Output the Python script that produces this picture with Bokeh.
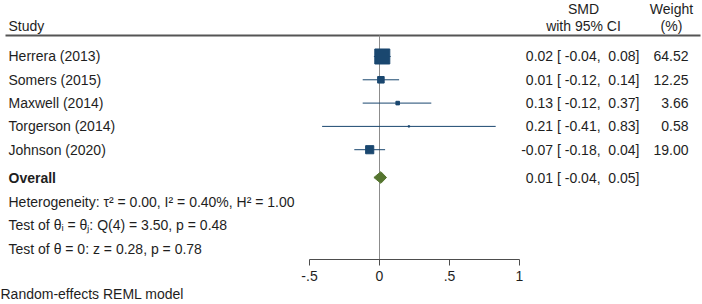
from bokeh.plotting import figure
from bokeh.models import Range1d, FixedTicker, Title, ColumnDataSource
from bokeh.core.properties import value
from bokeh.embed import file_html
from bokeh.resources import INLINE
import math

# ---------------- data ----------------
studies = ["Herrera (2013)", "Somers (2015)", "Maxwell (2014)", "Torgerson (2014)", "Johnson (2020)"]
smd = [0.02, 0.01, 0.13, 0.21, -0.07]
ci_low = [-0.04, -0.12, -0.12, -0.41, -0.18]
ci_high = [0.08, 0.14, 0.37, 0.83, 0.04]
weights = [64.52, 12.25, 3.66, 0.58, 19.00]
overall_est = 0.01
overall_low = -0.04
overall_high = 0.05
x_ticks = [-0.5, 0, 0.5, 1]
x_tick_labels = ["-.5", "0", ".5", "1"]
stats_lines = [
    "Heterogeneity: \u03c4\u00b2 = 0.00, I\u00b2 = 0.40%, H\u00b2 = 1.00",
    "Test of \u03b8\u1d62 = \u03b8\u2c7c: Q(4) = 3.50, p = 0.48",
    "Test of \u03b8 = 0: z = 0.28, p = 0.78",
]
model_note = "Random-effects REML model"

# ---------------- layout ----------------
W, H = 702, 304
FONT = "Liberation Sans"
FS = "14px"
TXT = "#1e1e1e"
NAVY = "#1a476f"
GREEN = "#55752f"

Y_TOP, Y_BOT = -2.403, 8.712
study_rows = list(range(len(studies)))
overall_row = 5.193
stat_rows = [6.245, 7.232, 8.24]
header_line_row = -0.901
head1_row, head2_row = -2.02, -1.33

p = figure(width=W, height=H, output_backend="svg", toolbar_location=None, title=None,
           x_range=Range1d(-379 / 140, (W - 379) / 140),
           y_range=Range1d(Y_BOT, Y_TOP),
           y_axis_location=None, min_border_left=0, min_border_right=0,
           min_border_top=0, min_border_bottom=45)
p.extra_x_ranges = {"px": Range1d(0, W)}
p.xgrid.visible = False
p.ygrid.visible = False
p.outline_line_color = None
p.background_fill_color = "white"
p.border_fill_color = "white"

ax = p.xaxis[0]
ax.ticker = FixedTicker(ticks=x_ticks)
ax.major_label_overrides = {t: l for t, l in zip(x_ticks, x_tick_labels)}
ax.bounds = (min(x_ticks), max(x_ticks))
ax.axis_line_color = "#4d4d4d"
ax.major_tick_line_color = "#4d4d4d"
ax.major_tick_in = 0
ax.major_tick_out = 6
ax.minor_tick_line_color = None
ax.major_label_standoff = 5
ax.major_label_text_font = FONT
ax.major_label_text_font_size = FS
ax.major_label_text_color = TXT

p.add_layout(Title(text=model_note, align="left", text_font=FONT, text_font_size=FS,
                   text_font_style="normal", text_color=TXT, standoff=0, offset=0), "below")

# header line & reference line
p.segment(x0=[5], x1=[700], y0=[header_line_row], y1=[header_line_row], x_range_name="px",
          line_color="#555555", line_width=2)
p.segment(x0=[0], x1=[0], y0=[header_line_row], y1=[Y_BOT], line_color="#8c8c8c", line_width=1)

# CIs and squares
src = ColumnDataSource(dict(y=study_rows, est=smd, lo=ci_low, hi=ci_high,
                            size=[15 * math.sqrt(w / max(weights)) for w in weights]))
p.segment(x0="lo", x1="hi", y0="y", y1="y", source=src, line_color=NAVY, line_width=1)
p.scatter(x="est", y="y", size="size", marker="square", source=src,
          fill_color=NAVY, line_color=NAVY)

# overall diamond
dh = 0.25
p.patch(x=[overall_low, overall_est, overall_high, overall_est],
        y=[overall_row, overall_row - dh, overall_row, overall_row + dh],
        fill_color=GREEN, line_color=GREEN)

def txt(x, y, t, align="left", style="normal"):
    p.text(x=x, y=y, text=t, x_range_name="px", text_font=value(FONT), text_font_size=FS,
           text_color=TXT, text_align=align, text_baseline="middle", text_font_style=style)

def ci_str(e, l, h):
    return f"{e:.2f} [{l:6.2f}, {h:5.2f}]".replace(" ", "\u00a0")

# headers
txt([8], [head2_row], ["Study"])
txt([583, 583], [head1_row, head2_row], ["SMD", "with 95% CI"], align="center")
txt([671, 671], [head1_row, head2_row], ["Weight", "(%)"], align="center")

# study rows
txt([8] * len(studies), study_rows, studies)
txt([639] * len(studies), study_rows, [ci_str(e, l, h) for e, l, h in zip(smd, ci_low, ci_high)], align="right")
txt([688] * len(studies), study_rows, [f"{w:.2f}" for w in weights], align="right")

# overall
txt([8], [overall_row], ["Overall"], style="bold")
txt([639], [overall_row], [ci_str(overall_est, overall_low, overall_high)], align="right")
txt([8] * len(stats_lines), stat_rows, stats_lines)

open("out.html", "w").write(file_html(p, INLINE))
